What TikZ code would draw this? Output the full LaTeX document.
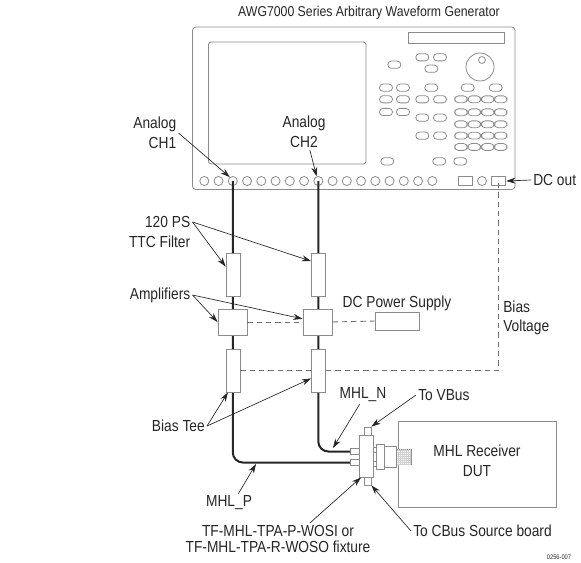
\documentclass[tikz,border=0pt]{standalone}
\usepackage{fontspec}
\setmainfont[FakeStretch=0.86]{Liberation Sans}
\usetikzlibrary{arrows.meta}
\definecolor{partGray}{HTML}{8C8C8C}
\definecolor{labelInk}{HTML}{262626}
\tikzset{
  part/.style={draw=partGray, fill=white, line width=0.6pt, inner sep=0pt},
  label/.style={text=labelInk, font=\fontsize{12}{15}\selectfont, inner sep=1.5pt},
  pointer/.style={-{Stealth[length=7pt, width=4.5pt]}, line width=0.5pt, labelInk},
  cable/.style={line width=1.5pt, labelInk, rounded corners=7.5pt},
  biasline/.style={partGray!80!black, line width=0.7pt, dash pattern=on 4pt off 3pt},
  pill/.style={draw=partGray, line width=0.6pt, rounded corners=2.6pt},
}
\begin{document}
\begin{tikzpicture}[x=0.75pt, y=-0.75pt]
  \useasboundingbox (0,0) rectangle (581,563);

  \node[label, font=\fontsize{10.7}{14}\selectfont] (lblTitle) at (369,13) {AWG7000 Series Arbitrary Waveform Generator};

  % Front panel of the generator
  \draw[part, rounded corners=2.5pt] (192.5,27) rectangle (515,189.5);
  \draw[part, rounded corners=2pt] (208.5,42) rectangle (366,164);
  \draw[part] (408,32) rectangle (504,43);
  \draw[part] (480,67) circle (14);
  \draw[part] (482,60) circle (3.5);

  \foreach \x/\y in {394.3/64.7,422.3/57.3,440/57.3,431.3/68.7,386/87.7,403/87.7,431.3/87.7,
    467.7/87.7,495.7/87.7,386/99.3,403/99.3,422.3/99.3,440/99.3,386/112,403/112,
    422.3/117.7,440/117.7,422.3/135.7,440/135.7,387.3/161.3,439.3/161.3,460.3/161.3}{
    \draw[pill] (\x-6.5,\y-3.6) rectangle (\x+6.5,\y+3.6);
  }
  % Keypad block
  \foreach \y in {99.3,112.3,124.3,135.7,147}{
    \foreach \x in {461,474.3,487.7,500.7}{
      \draw[pill] (\x-6.2,\y-3.4) rectangle (\x+6.2,\y+3.4);
    }
  }

  % Cables go first, the parts sit on top of them
  \node[part, minimum width=6.75pt, minimum height=4.9pt] (legN) at (355,451.5) {};
  \node[part, minimum width=6.75pt, minimum height=4.9pt] (legP) at (355,462.5) {};
  \foreach \i in {0,...,16}{
    \node[part, circle, minimum size=6.8pt] (port\i) at ({204.3+14.25*\i},181) {};
  }
  \draw[cable] (port2.center) |- (legP.west);
  \draw[cable] (port8.center) |- (legN.west);
  \node[part, minimum width=10.5pt, minimum height=6.4pt] (lowPanel) at (465,181) {};
  \node[part, circle, minimum size=6.8pt] (portAux) at (482,181) {};
  \node[part, minimum width=10.9pt, minimum height=6.2pt] (portDc) at (498.5,181) {};

  \foreach \n/\x in {A/233,B/318.5}{
    \node[part, minimum width=10.5pt, minimum height=32.2pt] (filt\n) at (\x,274.5) {};
    \node[part, minimum width=10.5pt, minimum height=32.2pt] (tee\n) at (\x,370.5) {};
  }
  \node[part, minimum width=21.8pt, minimum height=19.5pt] (ampA) at (232.5,322) {};
  \node[part, minimum width=21.8pt, minimum height=19.5pt] (ampB) at (317.5,322) {};
  \node[part, minimum width=33pt, minimum height=13.5pt] (power) at (397,321) {};

  \draw[biasline] (ampA.east) -- (ampB.west);
  \draw[biasline] (ampB.east) -- (power.west);
  \draw[biasline] (teeA.east) -- (teeB.west);
  \draw[biasline] (teeB.east) -| (portDc.center);

  % MHL fixture and receiver
  \node[part, minimum width=118.5pt, minimum height=64.5pt] (dut) at (477,464) {};
  \node[part, minimum width=11.2pt, minimum height=11.2pt] (plug) at (403.5,456.5) {};
  \draw[partGray!40, line width=0.25pt, step=1.5pt] (plug.south west) grid (plug.north east);
  \node[part, minimum width=5.25pt, minimum height=6pt] (stubTop) at (367.5,431) {};
  \node[part, minimum width=5.25pt, minimum height=6pt] (stubBot) at (367.5,481) {};
  \node[part, minimum width=3.75pt, minimum height=3.4pt] (lugN) at (373.5,450) {};
  \node[part, minimum width=3.75pt, minimum height=3.4pt] (lugP) at (373.5,464) {};
  \node[part, minimum width=10.5pt, minimum height=31.5pt] (fixture) at (366,456) {};
  \node[part, minimum width=6pt, minimum height=18.8pt] (flange) at (380,456.5) {};
  \node[part, minimum width=9pt, minimum height=15.8pt] (barrel) at (390,456.5) {};

  \coordinate (tipN) at (333,448);
  \coordinate (tipP) at (256,464);

  \node[label, align=right, anchor=east] (lblChA) at (178.5,133) {Analog\\CH1};
  \node[label, align=center] (lblChB) at (304,132) {Analog\\CH2};
  \node[label, anchor=east] (lblFilterA) at (192.5,222) {120 PS};
  \node[label, anchor=east] (lblFilterB) at (192.5,242) {TTC Filter};
  \node[label, anchor=east] (lblAmp) at (192.5,295) {Amplifiers};
  \node[label, anchor=east] (lblTee) at (207,426) {Bias Tee};
  \node[label] (lblPower) at (397,303) {DC Power Supply};
  \node[label, anchor=west] (lblBias) at (501,307) {Bias};
  \node[label, anchor=west] (lblVolt) at (501,327) {Voltage};
  \node[label, anchor=west] (lblDc) at (531,180) {DC out};
  \node[label] (lblN) at (363,395) {MHL\_N};
  \node[label] (lblP) at (229,503) {MHL\_P};
  \node[label, anchor=west] (lblVbus) at (416,395) {To VBus};
  \node[label, anchor=west] (lblCbus) at (411,531) {To CBus Source board};
  \node[label] (lblFixA) at (278,531) {TF-MHL-TPA-P-WOSI or};
  \node[label] (lblFixB) at (278,547) {TF-MHL-TPA-R-WOSO fixture};
  \node[label, align=center] (lblDut) at (477,460.5) {MHL Receiver\\DUT};
  \node[text=labelInk, font=\fontsize{5}{6}\selectfont, inner sep=0pt] (lblCode) at (559,557) {0256-007};

  \draw[pointer] (lblChA.east) -- (port2.128);
  \draw[pointer] (lblChB.-72) -- (port8.110);
  \draw[pointer] (lblFilterA.east) -- (filtA.133);
  \draw[pointer] (lblFilterA.east) -- (filtB.119);
  \draw[pointer] (lblAmp.east) -- (ampA.west);
  \draw[pointer] (lblAmp.east) -- (ampB.168);
  \draw[pointer] (lblTee.east) -- (teeA.257);
  \draw[pointer] (lblTee.east) -- (teeB.227);
  \draw[pointer] (lblDc.west) -- (portDc.east);
  \draw[pointer] (lblN.-110) -- (tipN);
  \draw[pointer] (lblP.45) -- (tipP);
  \draw[pointer] (lblVbus.west) -- (stubTop.north east);
  \draw[pointer] (lblCbus.west) -- (stubBot.south east);
  \draw[pointer] (lblFixA.14) -- (fixture.257);
\end{tikzpicture}
\end{document}
